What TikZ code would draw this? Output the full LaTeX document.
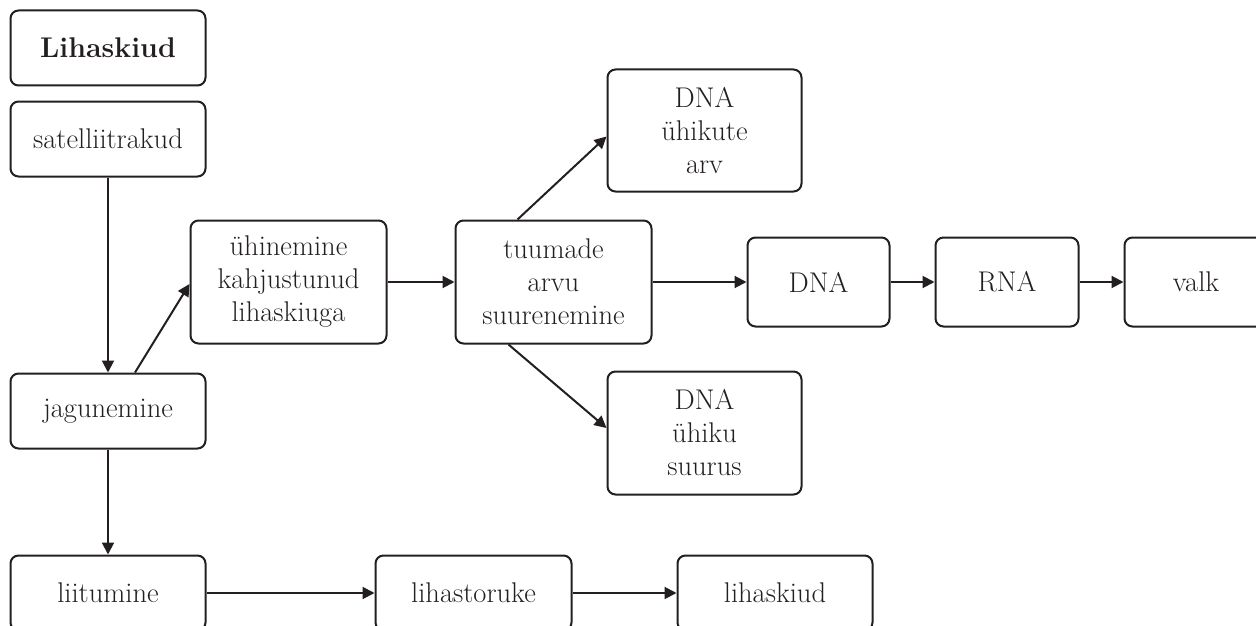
\documentclass[tikz,border=0pt]{standalone}
\usetikzlibrary{arrows.meta}
\definecolor{ink}{HTML}{231F20}
\begin{document}
\begin{tikzpicture}[x=1pt,y=-1pt,
  box/.style={draw=ink, line width=2pt, rounded corners=8pt, align=center, inner sep=0pt,
    font=\fontsize{28.5}{33}\selectfont, text=ink},
  arr/.style={draw=ink, line width=2pt, -{Triangle[length=12pt,width=12pt]}}
]
\useasboundingbox (0,0) rectangle (1256,626);
\node[box, minimum width=195pt, minimum height=75pt] (lk) at (108,48) {\textbf{Lihaskiud}};
\node[box, minimum width=195pt, minimum height=75pt] (sat) at (108,139) {satelliitrakud};
\node[box, minimum width=196pt, minimum height=123pt] (uhi) at (288.5,282) {ühinemine\\kahjustunud\\lihaskiuga};
\node[box, minimum width=196pt, minimum height=123pt] (tuu) at (553.5,282) {tuumade\\arvu\\suurenemine};
\node[box, minimum width=194pt, minimum height=122pt] (dnaa) at (704.5,130.5) {DNA\\ühikute\\arv};
\node[box, minimum width=142pt, minimum height=89pt] (dna) at (818.5,282) {DNA};
\node[box, minimum width=143pt, minimum height=89pt] (rna) at (1007,282) {RNA};
\node[box, minimum width=143pt, minimum height=89pt] (valk) at (1196,282) {valk};
\node[box, minimum width=194pt, minimum height=123pt] (dnas) at (704.5,433) {DNA\\ühiku\\suurus};
\node[box, minimum width=195pt, minimum height=75pt] (jag) at (108,411) {jagunemine};
\node[box, minimum width=195pt, minimum height=75pt] (lii) at (108,593) {liitumine};
\node[box, minimum width=196pt, minimum height=75pt] (tor) at (473.5,593) {lihastoruke};
\node[box, minimum width=195pt, minimum height=75pt] (kiu) at (775,593) {lihaskiud};

\draw[arr] (sat.south) -- (jag.north);
\draw[arr] ([xshift=27pt]jag.north) -- ([yshift=-2pt]uhi.west);
\draw[arr] (uhi.east) -- (tuu.west);
\draw[arr] ([xshift=-36pt]tuu.north) -- ([yshift=-6pt]dnaa.west);
\draw[arr] ([xshift=-45pt]tuu.south) -- ([yshift=5pt]dnas.west);
\draw[arr] (tuu.east) -- (dna.west);
\draw[arr] (dna.east) -- (rna.west);
\draw[arr] (rna.east) -- (valk.west);
\draw[arr] (jag.south) -- (lii.north);
\draw[arr] (lii.east) -- (tor.west);
\draw[arr] (tor.east) -- (kiu.west);
\end{tikzpicture}
\end{document}
